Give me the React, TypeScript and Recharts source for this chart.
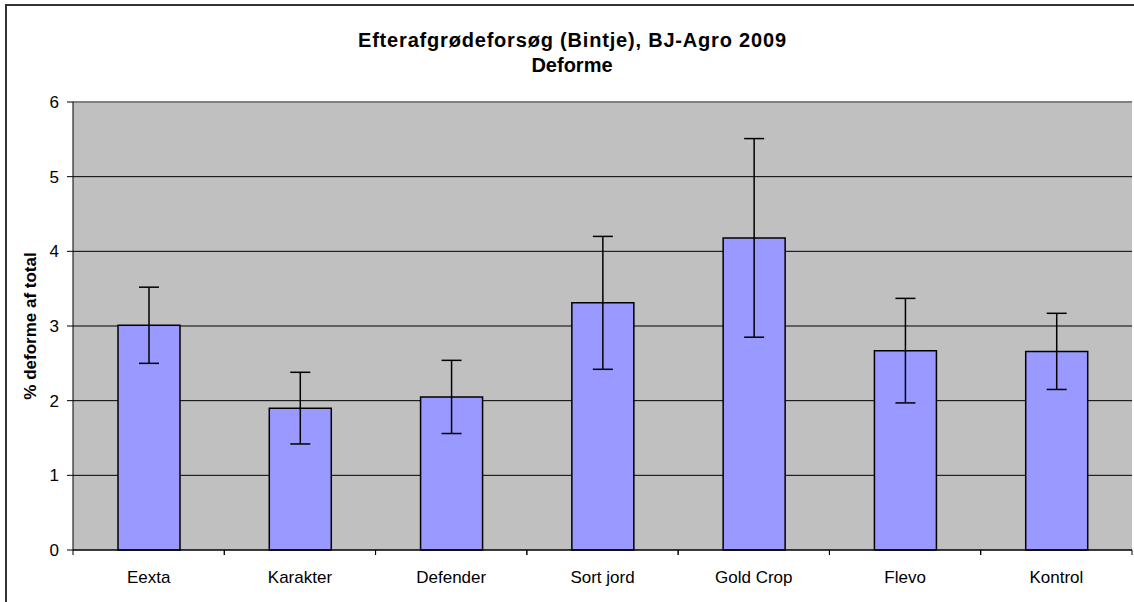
import { Bar, BarChart, CartesianGrid, ErrorBar, ReferenceLine, XAxis, YAxis } from "recharts";

const categories = ["Eexta", "Karakter", "Defender", "Sort jord", "Gold Crop", "Flevo", "Kontrol"];
const deforme = [3.01, 1.9, 2.05, 3.31, 4.18, 2.67, 2.66];
const deformeErr = [0.51, 0.48, 0.49, 0.89, 1.33, 0.7, 0.51];
const yTicks = [0, 1, 2, 3, 4, 5, 6];

const titleLines = ["Efterafgrødeforsøg (Bintje), BJ-Agro 2009", "Deforme"];
const yLabel = "% deforme af total";

const data = categories.map((name, i) => ({ name, value: deforme[i], err: deformeErr[i] }));

const W = 1127;
const H = 596;
const M = { top: 96, right: 2, left: 0, bottom: 0 };
const Y_W = 66;
const X_H = 52;
const band = (W - Y_W - M.right) / categories.length;
const font = "'Liberation Sans', Arial, sans-serif";

// Excel style: tick marks sit between categories, label in the middle
const XTick = ({ x, y, payload }: any) => (
  <g>
    <line x1={x - band / 2} x2={x - band / 2} y1={y} y2={y + 5} stroke="#000" />
    <line x1={x + band / 2} x2={x + band / 2} y1={y} y2={y + 5} stroke="#000" />
    <text x={x} y={y + 33} textAnchor="middle" fontSize={17} fontFamily={font} fill="#000">
      {payload.value}
    </text>
  </g>
);

export default function App() {
  return (
    <div>
      <style>{"body{margin:0;overflow:hidden;}"}</style>
      <div
        style={{
          position: "absolute",
          left: 5,
          top: 4,
          width: W,
          height: H,
          borderLeft: "2px solid #333",
          borderTop: "2px solid #333",
          background: "#fff",
        }}
      >
        <BarChart width={W} height={H} data={data} margin={M}>
          <CartesianGrid vertical={false} stroke="#000" fill="#C0C0C0" fillOpacity={1} />
          <XAxis
            dataKey="name"
            height={X_H}
            axisLine={{ stroke: "#000" }}
            tickLine={false}
            tickSize={0}
            tickMargin={0}
            interval={0}
            tick={<XTick />}
          />
          <YAxis
            width={Y_W}
            domain={[0, 6]}
            ticks={yTicks}
            interval={0}
            axisLine={{ stroke: "#000" }}
            tickLine={{ stroke: "#000" }}
            tickSize={6}
            tickMargin={8}
            tick={{ fontSize: 17, fontFamily: font, fill: "#000" }}
          />
          <YAxis
            yAxisId="r"
            orientation="right"
            width={0}
            domain={[0, 6]}
            tick={false}
            tickLine={false}
            axisLine={{ stroke: "#808080", strokeWidth: 2 }}
          />
          <ReferenceLine y={6} stroke="#808080" strokeWidth={2} />
          <Bar
            dataKey="value"
            fill="#9999FF"
            stroke="#000"
            strokeWidth={1.5}
            barSize={62}
            isAnimationActive={false}
          >
            <ErrorBar dataKey="err" width={10} stroke="#000" strokeWidth={1.5} direction="y" />
          </Bar>
        </BarChart>
        <svg
          width={W}
          height={H}
          style={{ position: "absolute", left: 0, top: 0, pointerEvents: "none" }}
        >
          <text
            x={565}
            y={40.7}
            textAnchor="middle"
            fontSize={20}
            fontWeight="bold"
            fontFamily={font}
            textLength={428}
            lengthAdjust="spacing"
          >
            {titleLines[0]}
          </text>
          <text x={565} y={66.3} textAnchor="middle" fontSize={20} fontWeight="bold" fontFamily={font}>
            {titleLines[1]}
          </text>
          <text
            x={29}
            y={320}
            textAnchor="middle"
            fontSize={17}
            fontWeight="bold"
            fontFamily={font}
            transform="rotate(-90 29 320)"
          >
            {yLabel}
          </text>
        </svg>
      </div>
    </div>
  );
}
